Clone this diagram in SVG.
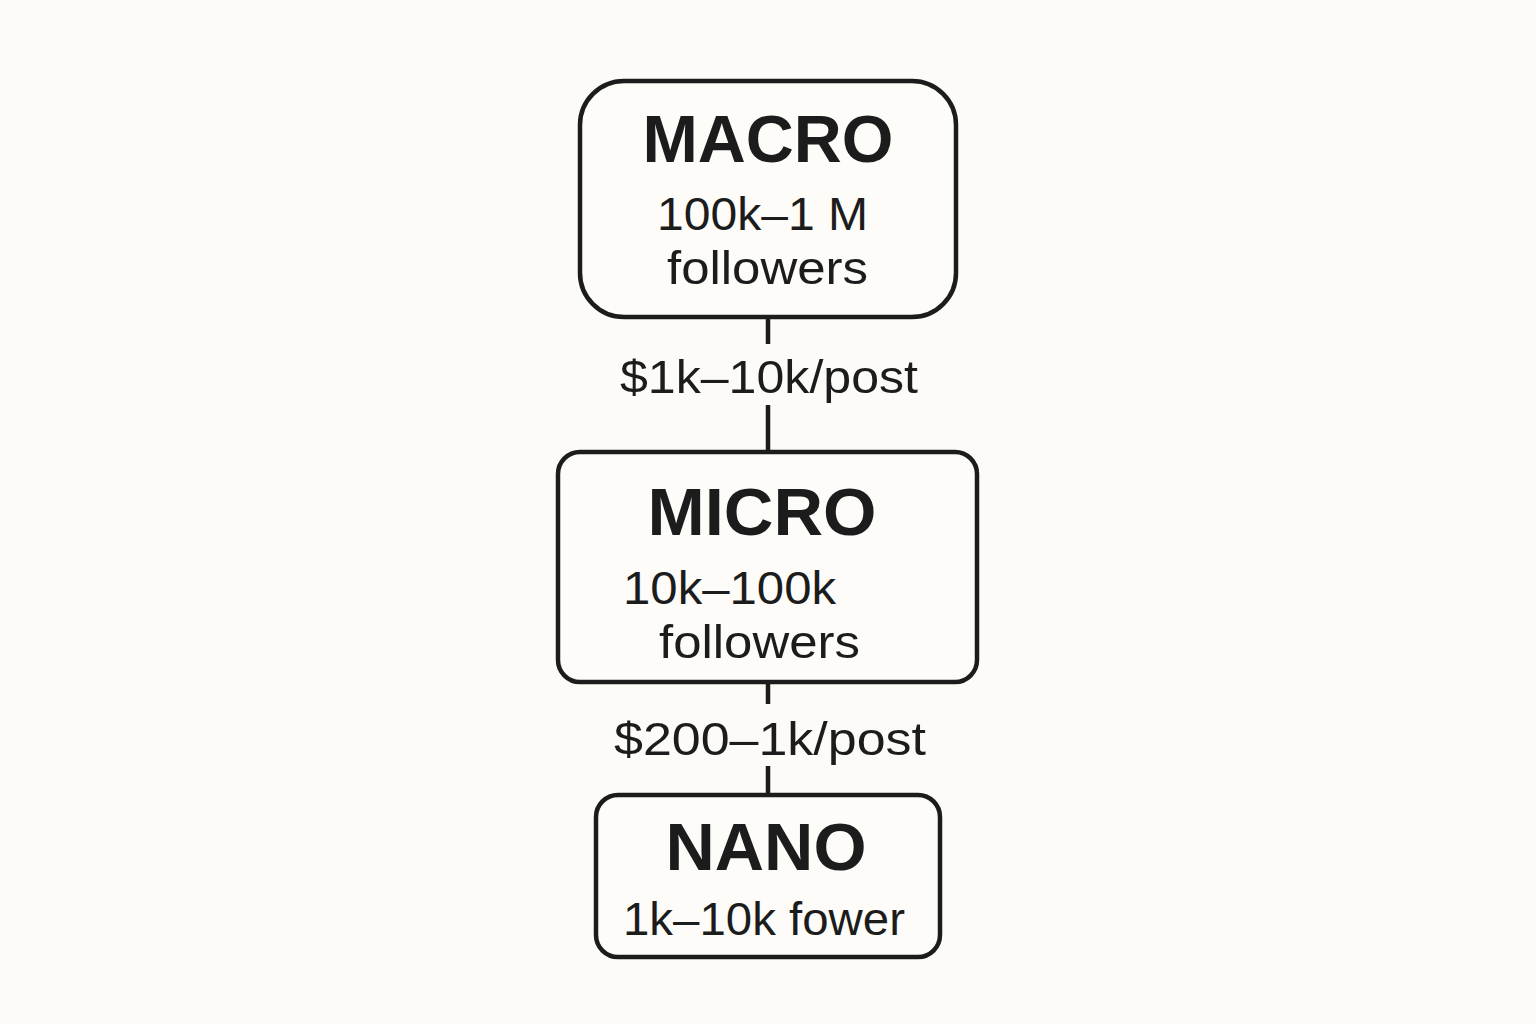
<svg xmlns="http://www.w3.org/2000/svg" width="1536" height="1024" viewBox="0 0 1536 1024">
<style>
.box{fill:#fdfcf9;stroke:#1c1c1c;stroke-width:4.5}
.title{font-family:"Liberation Sans",Arial,sans-serif;font-weight:bold;font-size:66px;fill:#1c1c1c;text-anchor:middle}
.sub{font-family:"Liberation Sans",Arial,sans-serif;font-size:46px;fill:#1c1c1c}
.lbl{font-family:"Liberation Sans",Arial,sans-serif;font-size:46px;fill:#1c1c1c}
.conn{stroke:#1c1c1c;stroke-width:4.5;fill:none}
</style>
<rect width="1536" height="1024" fill="#fcfbf7"/>
<g id="connectors">
<line class="conn" x1="768" y1="317" x2="768" y2="344"/>
<line class="conn" x1="768" y1="405" x2="768" y2="452"/>
<text class="lbl" x="620" y="393" textLength="298" lengthAdjust="spacingAndGlyphs">$1k–10k/post</text>
<line class="conn" x1="768" y1="682" x2="768" y2="704"/>
<line class="conn" x1="768" y1="766" x2="768" y2="795"/>
<text class="lbl" x="614" y="755" textLength="312" lengthAdjust="spacingAndGlyphs">$200–1k/post</text>
</g>
<g id="macro">
<rect class="box" x="580" y="81" width="376" height="236" rx="44"/>
<text class="title" x="768" y="162" textLength="251" lengthAdjust="spacingAndGlyphs">MACRO</text>
<text class="sub" x="657" y="230" textLength="211" lengthAdjust="spacingAndGlyphs">100k–1 M</text>
<text class="sub" x="667" y="284" textLength="201" lengthAdjust="spacingAndGlyphs">followers</text>
</g>
<g id="micro">
<rect class="box" x="558" y="452" width="419" height="230" rx="22"/>
<text class="title" x="762" y="535" textLength="229" lengthAdjust="spacingAndGlyphs">MICRO</text>
<text class="sub" x="623" y="604" textLength="213" lengthAdjust="spacingAndGlyphs">10k–100k</text>
<text class="sub" x="659" y="658" textLength="201" lengthAdjust="spacingAndGlyphs">followers</text>
</g>
<g id="nano">
<rect class="box" x="596" y="795" width="344" height="162" rx="22"/>
<text class="title" x="766" y="870" textLength="201" lengthAdjust="spacingAndGlyphs">NANO</text>
<text class="sub" x="623" y="935" textLength="282" lengthAdjust="spacingAndGlyphs">1k–10k fower</text>
</g>
</svg>
